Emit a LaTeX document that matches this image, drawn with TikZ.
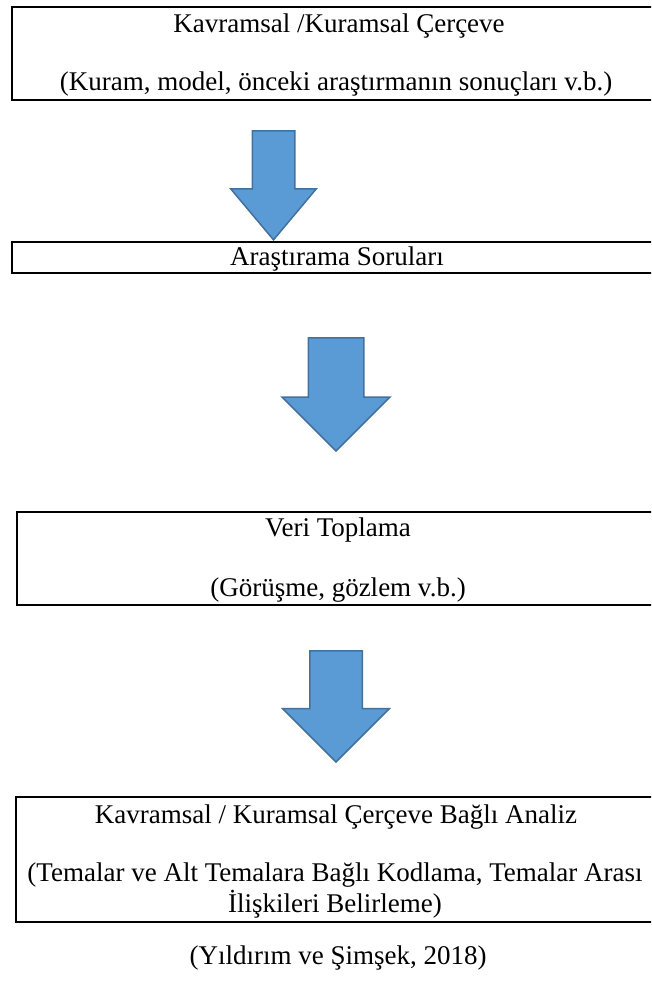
\documentclass[tikz,border=0pt]{standalone}
\usepackage{fontspec}
\setmainfont{Liberation Serif}
\usepackage{tikz}
\usetikzlibrary{shapes.arrows}

\definecolor{arrowblue}{HTML}{5B9BD5}
\definecolor{arrowline}{HTML}{41719C}

\tikzset{
  framebox/.style={draw, line width=2.5pt, inner sep=0pt},
  blockarrow/.style={single arrow, draw=arrowline, fill=arrowblue, line width=1.5pt, inner xsep=0pt, rotate=-90, anchor=tip},
}

\begin{document}
\begin{tikzpicture}[x=1pt, y=1pt, every node/.style={font=\fontsize{27}{31}\selectfont}]
    \path[use as bounding box] (0,0) rectangle (651,-983);
    \clip (0,0) rectangle (651,-983);

    % Boxes
    \node[framebox, minimum width=650, minimum height=93] (kuram) at (337,-53.5) {};
    \node[framebox, minimum width=650, minimum height=31] (sorular) at (337,-257.5) {};
    \node[framebox, minimum width=645, minimum height=93] (veri) at (339.5,-558.5) {};
    \node[framebox, minimum width=646, minimum height=125] (analiz) at (339,-859.5) {};

    % Box texts
    \node (kuramA) at (339,-26) {Kavramsal /Kuramsal Çerçeve};
    \node (kuramB) at (336,-84) {(Kuram, model, önceki araştırmanın sonuçları v.b.)};
    \node (sorularA) at (337,-259) {Araştırama Soruları};
    \node (veriA) at (338,-530) {Veri Toplama};
    \node (veriB) at (338,-590) {(Görüşme, gözlem v.b.)};
    \node (analizA) at (336,-817) {Kavramsal / Kuramsal Çerçeve Bağlı Analiz};
    \node[align=center] (analizB) at (335,-890) {(Temalar ve Alt Temalara Bağlı Kodlama, Temalar Arası\\İlişkileri Belirleme)};

    % Arrows (placed by their tips)
    \node[blockarrow, minimum height=109, inner ysep=20.5, single arrow head extend=21.5, single arrow tip angle=80] (okA) at (273.5,-241) {};
    \node[blockarrow, minimum height=113, inner ysep=27, single arrow head extend=26] (okB) at (336,-452) {};
    \node[blockarrow, minimum height=111, inner ysep=25.5, single arrow head extend=27] (okC) at (336,-763) {};

    % Source
    \node (kaynak) at (338,-958) {(Yıldırım ve Şimşek, 2018)};
\end{tikzpicture}
\end{document}
